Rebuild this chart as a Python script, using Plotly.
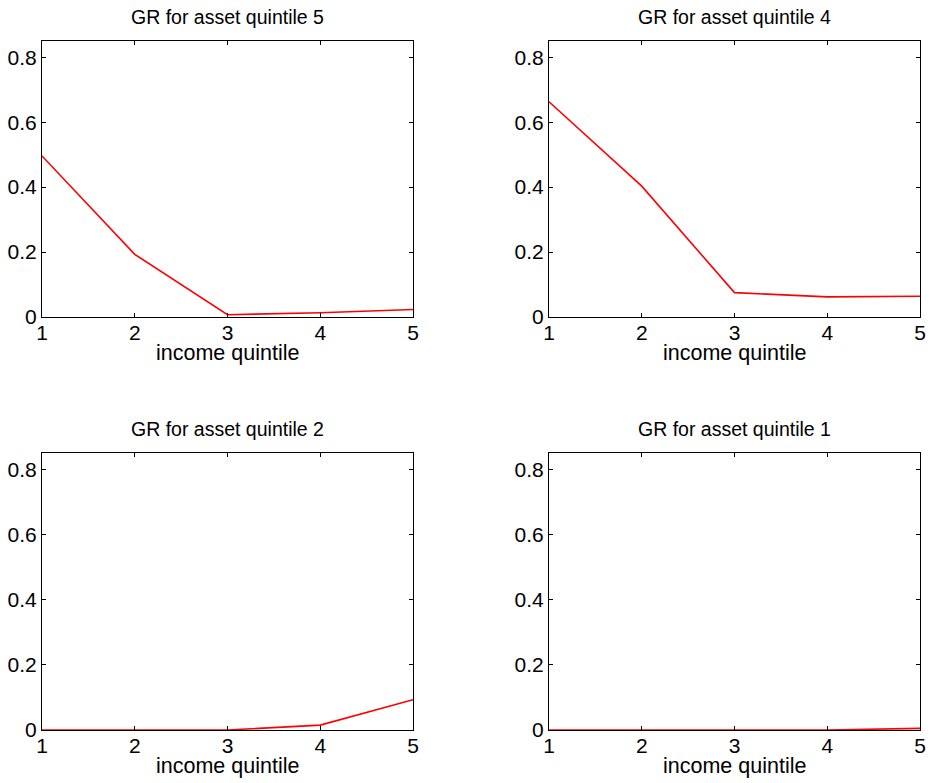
import plotly.graph_objects as go

income_quintile = [1, 2, 3, 4, 5]
gr_asset_q5 = [0.496, 0.193, 0.007, 0.013, 0.023]
gr_asset_q4 = [0.663, 0.403, 0.075, 0.062, 0.064]
gr_asset_q2 = [0.0, 0.0, 0.0, 0.015, 0.093]
gr_asset_q1 = [0.0, 0.0, 0.0, 0.0, 0.005]
panel_titles = ["GR for asset quintile 5", "GR for asset quintile 4",
                "GR for asset quintile 2", "GR for asset quintile 1"]
x_tick_vals = [1, 2, 3, 4, 5]
y_tick_vals = [0, 0.2, 0.4, 0.6, 0.8]
y_tick_text = ["0", "0.2", "0.4", "0.6", "0.8"]
x_label = "income quintile"

W, H = 930, 783
series = [gr_asset_q5, gr_asset_q4, gr_asset_q2, gr_asset_q1]
# pixel boxes: (left, right, top, bottom)
boxes = [(42, 413, 41, 317), (549, 920, 41, 317),
         (42, 413, 453, 730), (549, 920, 453, 730)]

FONT = "Liberation Sans, Arial, Helvetica, sans-serif"
fig = go.Figure()
layout = dict(width=W, height=H, margin=dict(l=0, r=0, t=0, b=0, autoexpand=False),
              paper_bgcolor="white", plot_bgcolor="white", showlegend=False,
              font=dict(family=FONT, color="black"))
annotations = []
for i, (vals, (l, r, t, b)) in enumerate(zip(series, boxes)):
    n = "" if i == 0 else str(i + 1)
    fig.add_trace(go.Scatter(x=income_quintile, y=vals, mode="lines",
                             line=dict(color="#ff0000", width=1.6),
                             xaxis="x" + n, yaxis="y" + n, cliponaxis=True))
    common = dict(showline=True, linecolor="black", linewidth=1, mirror="ticks",
                  ticks="inside", ticklen=4, tickcolor="black", tickwidth=1,
                  automargin=False,
                  showgrid=False, zeroline=False, tickfont=dict(size=21, family=FONT, color="black"))
    layout["xaxis" + n] = dict(common, domain=[l / W, r / W], range=[1, 5],
                               tickvals=x_tick_vals, anchor="y" + n,
                               ticklabelstandoff=-3)
    layout["yaxis" + n] = dict(common, domain=[1 - b / H, 1 - t / H], range=[0, 0.85],
                               tickvals=y_tick_vals, ticktext=y_tick_text, anchor="x" + n,
                               ticklabelstandoff=0)
    cx = (l + r) / 2 / W
    annotations.append(dict(text=panel_titles[i], x=cx, y=1 - (t - 24) / H,
                            xref="paper", yref="paper", showarrow=False,
                            xanchor="center", yanchor="middle",
                            font=dict(size=19.5, family=FONT, color="black")))
    annotations.append(dict(text=x_label, x=cx, y=1 - (b + 36) / H,
                            xref="paper", yref="paper", showarrow=False,
                            xanchor="center", yanchor="middle",
                            font=dict(size=21.5, family=FONT, color="black")))
layout["annotations"] = annotations
fig.update_layout(**layout)
fig.write_html("out.html", config={"displayModeBar": False},
               post_script="document.body.style.margin='0';document.body.style.overflow='hidden';")
